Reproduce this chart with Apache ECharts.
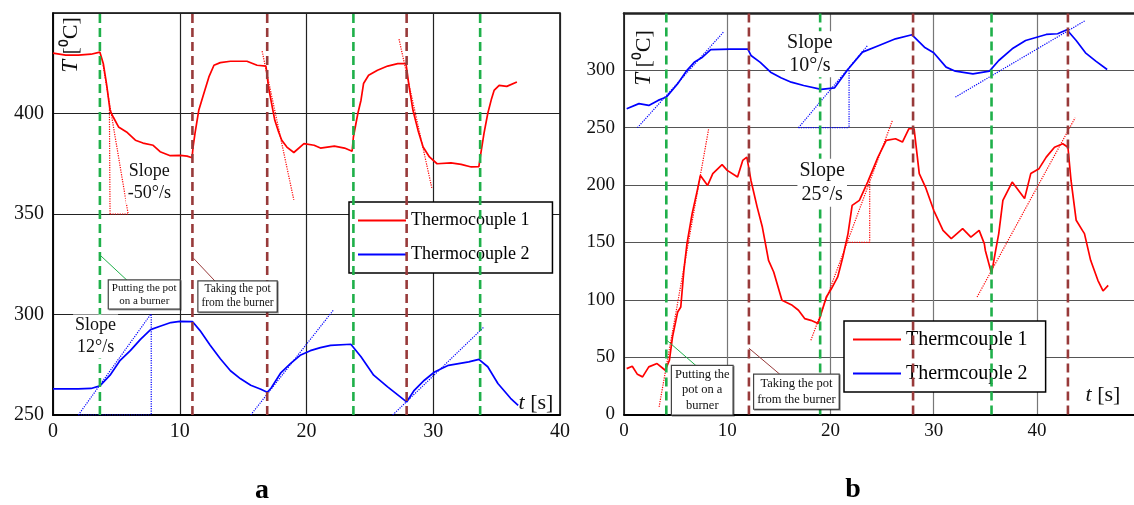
<!DOCTYPE html>
<html>
<head>
<meta charset="utf-8">
<script src="https://cdn.jsdelivr.net/npm/echarts@6/dist/echarts.min.js"></script>
<style>
  html, body { margin: 0; padding: 0; background: #fff; }
  #chart { width: 1134px; height: 505px; }
</style>
</head>
<body>
<div id="chart"></div>
<script>
// panel a: [t (s), T (°C)]
const aTc1 = [[0,430],[1,429],[2,429],[3,429.5],[3.7,430.5],[3.97,424.8],[4.24,414],[4.5,401.6],[4.77,398],
  [5.17,393.3],[5.8,390.8],[6.5,386.7],[7.1,385.3],[7.9,384.2],[8.45,381],[9.25,379],[10.05,379.2],[10.58,378.8],
  [10.97,378],[11.05,383.3],[11.2,390],[11.5,401.6],[11.9,410],[12.3,418.2],[12.7,424],[13.2,425.3],[14,426],
  [15.3,426],[16.1,424],[16.8,423.6],[17.0,413.2],[17.3,403.2],[17.5,396.6],[17.8,390.8],[18.05,386.7],
  [18.45,383.3],[19.0,380.6],[19.8,385],[20.6,384.2],[21.1,382.8],[22.2,383.8],[23.0,382.8],[23.6,381.2],
  [23.7,388.3],[24.05,400],[24.3,406.6],[24.5,414.9],[24.9,419],[25.6,421.5],[26.4,423.6],[27.2,424.8],
  [27.85,424.8],[28.1,413.2],[28.4,401.6],[28.8,391.6],[29.2,383.3],[29.7,378.4],[30.3,375],[31.4,375.4],
  [32.2,374.7],[33.0,373.4],[33.6,373.6],[33.75,380],[34.0,390],[34.3,400],[34.6,407.4],[34.8,411.5],
  [35.2,414],[35.8,413.5],[36.6,415.7]];
const aTc2 = [[0,263],[1,263],[2,263],[3,263.2],[3.7,264.5],[4.5,269.8],[5.3,277.2],[6.1,282],[6.9,287.6],
  [7.7,292.5],[8.5,294.3],[9.3,296],[10,296.6],[11,296.5],[11.6,292],[12.4,284.7],[13.2,278],[14,272],
  [14.8,268],[15.6,264.8],[16.4,262.8],[16.9,261.3],[17.2,263.3],[17.95,270.8],[18.75,275.7],[19.5,279.7],
  [20.3,282],[21.1,283.5],[21.9,284.6],[23.5,285.2],[24.3,279],[25.3,269.8],[26.4,264],[27.9,256.5],
  [28.5,262.3],[29.3,267.3],[30.1,271.4],[31.2,274.7],[32.8,276.4],[33.6,277.7],[34.3,274],[35.1,265.7],
  [36.1,258.3],[36.7,254.8]];
const aGreen = [3.7, 23.7, 33.7];
const aBrown = [11.0, 16.9, 27.9];
const aRedDots = [[[3.95,424],[5.93,350]], [[4.45,402],[4.5,350]], [[4.5,350],[5.93,350]],
  [[16.5,431],[19.0,357]], [[27.3,437],[29.9,362.6]]];
const aBlueDots = [[[2,250],[7.7,300]], [[7.75,300],[7.75,250]], [[2,250],[7.75,250]],
  [[15.6,250],[22.1,302]], [[26.8,250],[34.0,293.8]]];
const aLeadGreen = [[3.72,329.5],[5.93,316.5]];
const aLeadBrown = [[11.08,328],[12.8,316.5]];

// panel b
const bTc1 = [[0.26,40],[0.8,42],[1.3,35],[1.8,32.8],[2.4,41.5],[3.2,44.4],[4.0,38.6],[4.4,47.3],[4.7,67.6],
  [5.2,89.4],[5.5,93.7],[5.8,125.7],[6.1,149],[6.6,175],[7.1,195.4],[7.4,208.4],[8.1,199.7],[8.6,210],
  [9.5,217.8],[10.0,212.8],[11.0,207],[11.5,221.5],[11.9,224.4],[12.3,204],[12.9,180.8],[13.4,163.4],
  [13.7,149],[14.0,134.4],[14.5,124.2],[15.3,99.6],[16.3,95.2],[16.9,90.9],[17.5,83.6],[18.1,82.1],
  [18.8,79.3],[19.1,88],[19.6,102.4],[20.1,109.8],[20.7,119.9],[21.2,137.3],[21.7,157.7],[22.1,182.3],
  [22.8,186.7],[23.6,202.6],[24.6,224.4],[25.4,239],[26.3,240.4],[26.97,237.5],[27.6,249.1],[28.1,249.1],
  [28.6,210],[29.2,198.3],[30,178],[30.9,160.5],[31.7,153.3],[32.8,162],[33.6,154.7],[34.4,160.5],
  [34.9,149],[35.0,143],[35.6,122.8],[36.0,143],[36.3,157.7],[36.7,186.7],[37.6,202.6],[38.8,188.2],
  [39.4,210],[40.2,214.3],[40.9,224.4],[41.7,233],[42.5,236],[43.0,233],[43.3,204],[43.8,169.3],
  [44.4,160.5],[44.6,157.7],[45.2,134.4],[45.9,117],[46.4,107.7],[46.9,112.6]];
const bTc2 = [[0.26,266.5],[1.45,271],[2.4,269.4],[3.3,273.8],[4.1,276.7],[5.2,288.3],[6.1,300],[6.8,307],
  [7.6,311.5],[8.4,318],[10.3,318.5],[12.0,318.5],[12.3,313],[13.2,307],[14.2,298.4],[15.2,293.5],
  [16.2,289.7],[17.4,286.8],[19.1,283.4],[20.4,284.8],[21.7,301],[23.1,315.9],[24.7,321.7],[26.3,327.5],
  [27.9,331],[29.1,320.2],[30,315.3],[31.2,302.8],[32.1,299.3],[33.8,297],[35.4,299.3],[36.3,308.6],
  [37.6,318.8],[38.9,326],[40.9,331.3],[42.0,331.9],[42.9,335.4],[43.8,326],[44.7,315.3],[45.7,308],
  [46.8,300.8]];
const bGreen = [4.1, 19.0, 35.6];
const bBrown = [12.1, 28.0, 43.0];
const bRedDots = [[[3.4,6.6],[8.2,249]], [[18.1,64.7],[26.0,256.4]], [[23.8,203],[23.8,150]],
  [[21.6,150],[23.8,150]], [[34.2,102.4],[43.7,258.7]]];
const bBlueDots = [[[1.3,250],[9.7,334]], [[16.9,250],[23.6,321.7]], [[21.8,300],[21.8,250]],
  [[16.9,250],[21.8,250]], [[32.1,276.7],[44.7,343.5]]];
const bLeadGreen = [[4.15,64.7],[7.15,41.2]];
const bLeadBrown = [[12.1,57.8],[15.1,35]];

const xRangeA = [0, 40], yRangeA = [250, 450];
const xRangeB = [0, 49.4], yRangeB = [0, 350];

const RED = '#ff0000', BLUE = '#0000ff', GREEN = '#1fb04a', BROWN = '#983a3a';
const FONT = 'Liberation Serif';

const chart = echarts.init(document.getElementById('chart'));

function curve(name, data, color, i) {
  return { type: 'line', name: name, data: data, xAxisIndex: i, yAxisIndex: i, symbol: 'none',
    lineStyle: { color: color, width: 1.7 }, itemStyle: { color: color }, z: 3, silent: true }
}
function vline(t, color, i, range) {
  return { type: 'line', data: [[t, range[0]], [t, range[1]]], xAxisIndex: i, yAxisIndex: i, symbol: 'none',
    lineStyle: { color: color, width: 2.6, type: [9, 5] }, z: 4, silent: true }
}
function seg(pts, color, i, width, type) {
  return { type: 'line', data: pts, xAxisIndex: i, yAxisIndex: i, symbol: 'none',
    lineStyle: { color: color, width: width, type: type }, z: 3, silent: true }
}

function xAxis(i, range, split) {
  return {
    type: 'value', gridIndex: i, min: range[0], max: range[1], interval: 10,
    axisLine: { show: true, onZero: false, lineStyle: { color: '#000', width: 2 } },
    axisTick: { show: false },
    axisLabel: { color: '#111', fontFamily: FONT, fontSize: i === 0 ? 20 : 19, margin: 7, showMaxLabel: i === 0 },
    splitLine: { show: true, showMaxLine: i === 0, lineStyle: { color: split, width: 1.2 } }
  }
}
function yAxis(i, range, split) {
  return {
    type: 'value', gridIndex: i, min: range[0], max: range[1], interval: 50,
    axisLine: { show: true, onZero: false, lineStyle: { color: '#000', width: 1.5 } },
    axisTick: { show: false },
    axisLabel: { color: '#111', fontFamily: FONT, fontSize: i === 0 ? 20 : 19, margin: 9,
      formatter: v => v === range[1] ? '' : v },
    splitLine: { show: true, lineStyle: { color: split, width: 1.2 } }
  }
}

const series = [
  curve('Thermocouple 1', aTc1, RED, 0),
  curve('Thermocouple 2', aTc2, BLUE, 0),
  curve('Thermcouple 1', bTc1, RED, 1),
  curve('Thermcouple 2', bTc2, BLUE, 1)
]
aGreen.forEach(t => series.push(vline(t, GREEN, 0, yRangeA)))
aBrown.forEach(t => series.push(vline(t, BROWN, 0, yRangeA)))
bGreen.forEach(t => series.push(vline(t, GREEN, 1, yRangeB)))
bBrown.forEach(t => series.push(vline(t, BROWN, 1, yRangeB)))
aRedDots.forEach(p => series.push(seg(p, RED, 0, 1.2, 'dotted')))
aBlueDots.forEach(p => series.push(seg(p, BLUE, 0, 1.2, 'dotted')))
bRedDots.forEach(p => series.push(seg(p, RED, 1, 1.2, 'dotted')))
bBlueDots.forEach(p => series.push(seg(p, BLUE, 1, 1.2, 'dotted')))
series.push(seg(aLeadGreen, GREEN, 0, 1, 'solid'), seg(aLeadBrown, BROWN, 0, 1, 'solid'))
series.push(seg(bLeadGreen, GREEN, 1, 1, 'solid'), seg(bLeadBrown, BROWN, 1, 1, 'solid'))

function legend(names, left, top, size, pad) {
  return {
    data: names, orient: 'vertical', left: left, top: top, z: 1,
    icon: 'rect', itemWidth: 48, itemHeight: 2, itemGap: 13,
    padding: pad, backgroundColor: '#fff', borderColor: '#000', borderWidth: 1.5, borderRadius: 0,
    selectedMode: false,
    textStyle: { fontFamily: FONT, fontSize: size, color: '#000', lineHeight: 21 }
  }
}

// top frame line of panel b (its right edge runs off the picture)
const topB = {
  type: 'value', gridIndex: 1, position: 'top', min: xRangeB[0], max: xRangeB[1],
  axisLine: { show: true, onZero: false, lineStyle: { color: '#222', width: 2.5 } },
  axisTick: { show: false }, axisLabel: { show: false }, splitLine: { show: false }
}

chart.setOption({
  animation: false,
  backgroundColor: '#fff',
  grid: [
    { left: 53, top: 13, width: 507, height: 402, show: true, borderColor: '#000', borderWidth: 1.5, backgroundColor: 'transparent' },
    { left: 624, top: 13, width: 510, height: 401.5 }
  ],
  xAxis: [xAxis(0, xRangeA, '#222'), xAxis(1, xRangeB, '#777'), topB],
  yAxis: [yAxis(0, yRangeA, '#222'), yAxis(1, yRangeB, '#555')],
  legend: [
    legend(['Thermocouple 1', 'Thermocouple 2'], 349, 202, 18, [8, 23, 8, 9]),
    legend(['Thermcouple 1', 'Thermcouple 2'], 844, 321, 20, [8, 18, 8, 9])
  ],
  series: series
})

// text annotations anchored in data coordinates
const notes = [
  { i: 0, at: [7.6, 366], text: 'Slope\n-50°/s', size: 18, lh: 22 },
  { i: 0, at: [3.36, 289], text: 'Slope\n12°/s', size: 18, lh: 22 },
  { i: 1, at: [18.0, 314], text: 'Slope\n10°/s', size: 20, lh: 23 },
  { i: 1, at: [19.2, 202], text: 'Slope\n25°/s', size: 20, lh: 24 }
]
const boxes = [
  { i: 0, at: [7.2, 310], text: 'Putting the pot\non a burner', size: 11, lh: 13 },
  { i: 0, at: [14.56, 309], text: 'Taking the pot\nfrom the burner', size: 11.5, lh: 14 },
  { i: 1, at: [7.58, 21.2], text: 'Putting the\npot on a\nburner', size: 12.5, lh: 15.5 },
  { i: 1, at: [16.7, 19.9], text: 'Taking the pot\nfrom the burner', size: 12.5, lh: 16 }
]

const graphic = []
notes.forEach(n => {
  const p = chart.convertToPixel({ xAxisIndex: n.i, yAxisIndex: n.i }, n.at)
  graphic.push({ type: 'text', x: p[0], y: p[1], z: 100, silent: true,
    style: { text: n.text, fontFamily: FONT, fontSize: n.size, lineHeight: n.lh, fill: '#111',
      align: 'center', verticalAlign: 'middle', backgroundColor: '#fff', padding: [0, 2] } })
})
boxes.forEach(n => {
  const p = chart.convertToPixel({ xAxisIndex: n.i, yAxisIndex: n.i }, n.at)
  graphic.push({ type: 'text', x: p[0], y: p[1], z: 100, silent: true,
    style: { text: n.text, fontFamily: FONT, fontSize: n.size, lineHeight: n.lh, fill: '#111',
      align: 'center', verticalAlign: 'middle', backgroundColor: '#fff',
      borderColor: '#444', borderWidth: 1.2, padding: [1, 3],
      shadowColor: 'rgba(0,0,0,0.35)', shadowOffsetX: 1, shadowOffsetY: 1 } })
})

// axis names
const axisName = (x, y) => ({ type: 'text', x: x, y: y, rotation: Math.PI / 2, z: 100, silent: true,
  style: { text: '{i|T} [⁰C]', fontFamily: FONT, fontSize: 22, fill: '#111', align: 'center', verticalAlign: 'middle',
    rich: { i: { fontStyle: 'italic', fontFamily: FONT, fontSize: 23 } } } })
const timeName = (x, y) => ({ type: 'text', x: x, y: y, z: 100, silent: true,
  style: { text: '{i|t} [s]', fontFamily: FONT, fontSize: 22, fill: '#111', align: 'center', verticalAlign: 'middle',
    rich: { i: { fontStyle: 'italic', fontFamily: FONT, fontSize: 22 } } } })
graphic.push(axisName(71, 45), axisName(644, 58), timeName(536, 403), timeName(1103, 395))
graphic.push({ type: 'text', x: 262, y: 491, silent: true,
  style: { text: 'a', fontFamily: FONT, fontSize: 28, fontWeight: 'bold', fill: '#000', align: 'center', verticalAlign: 'middle' } })
graphic.push({ type: 'text', x: 853, y: 490, silent: true,
  style: { text: 'b', fontFamily: FONT, fontSize: 28, fontWeight: 'bold', fill: '#000', align: 'center', verticalAlign: 'middle' } })

chart.setOption({ graphic: graphic })
</script>
</body>
</html>
